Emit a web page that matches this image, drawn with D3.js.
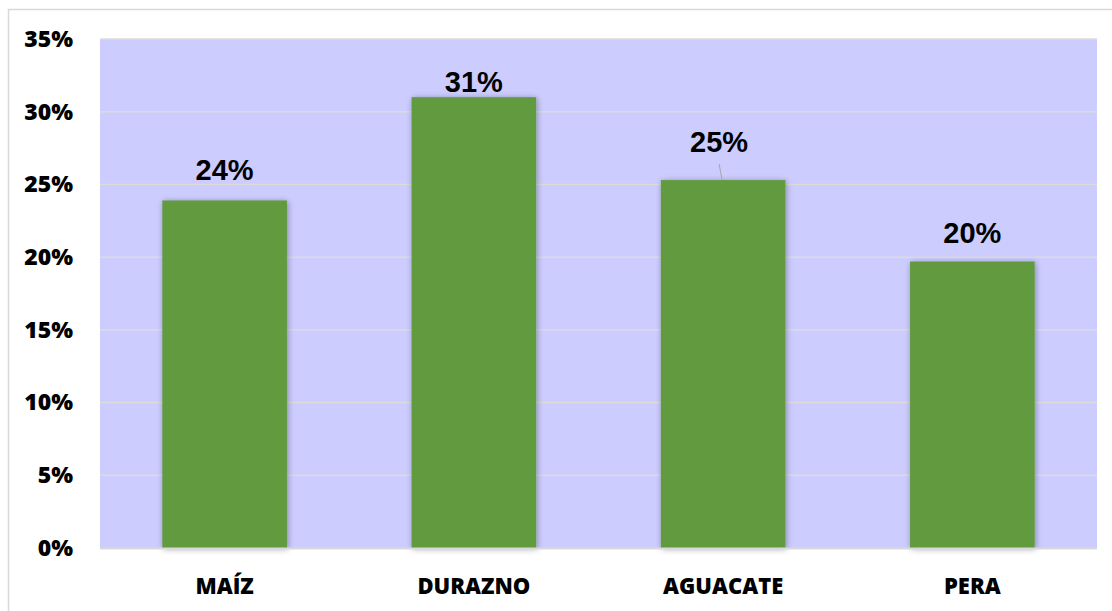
<!DOCTYPE html>
<html>
<head>
<meta charset="utf-8">
<script src="https://cdn.jsdelivr.net/npm/d3@7"></script>
<style>
  body { margin: 0; background: #fff; }
  svg { display: block; }
</style>
</head>
<body>
<svg id="chart" width="1112" height="611"></svg>
<script>
var categories = ["MAÍZ", "DURAZNO", "AGUACATE", "PERA"],
	values = [0.239, 0.310, 0.253, 0.197],
	labels = ["24%", "31%", "25%", "20%"],
	yTicks = [0, 0.05, 0.10, 0.15, 0.20, 0.25, 0.30, 0.35];

var svg = d3.select("#chart"),
	margin = {left: 100, top: 39, right: 15, bottom: 63},
	width = 1112 - margin.left - margin.right,
	height = 611 - margin.top - margin.bottom,
	x = d3.scaleBand().domain(categories).range([0, width]).paddingInner(0.5).paddingOuter(0.25),
	y = d3.scaleLinear().domain([0, 0.35]).range([height, 0]);

// outer chart border
svg.append("rect")
	.attr("x", 8.5).attr("y", 9.5)
	.attr("width", 1120).attr("height", 620)
	.attr("fill", "none").attr("stroke", "#d9d9d9").attr("stroke-width", 1.5);

var defs = svg.append("defs");
var f = defs.append("filter").attr("id", "shadow")
	.attr("x", "-20%").attr("y", "-10%").attr("width", "140%").attr("height", "120%");
f.append("feGaussianBlur").attr("in", "SourceAlpha").attr("stdDeviation", 3).attr("result", "b");
f.append("feOffset").attr("in", "b").attr("dx", 1).attr("dy", 1).attr("result", "o");
f.append("feComponentTransfer").attr("in", "o").attr("result", "s")
	.append("feFuncA").attr("type", "linear").attr("slope", 0.35);
var m = f.append("feMerge");
m.append("feMergeNode").attr("in", "s");
m.append("feMergeNode").attr("in", "SourceGraphic");

var g = svg.append("g").attr("transform", "translate(" + margin.left + "," + margin.top + ")");

// plot background
g.append("rect")
	.attr("width", width).attr("height", height)
	.attr("fill", "#ccccff");

// gridlines
g.selectAll(".grid").data(yTicks.slice(1))
	.enter().append("line")
	.attr("x1", 0).attr("x2", width)
	.attr("y1", function(d) { return y(d); })
	.attr("y2", function(d) { return y(d); })
	.attr("stroke", "#dcdcd8").attr("stroke-width", 1.5);

// bars
g.selectAll(".bar").data(values)
	.enter().append("rect")
	.attr("x", function(d, i) { return x(categories[i]); })
	.attr("y", function(d) { return y(d); })
	.attr("width", x.bandwidth())
	.attr("height", function(d) { return height - y(d); })
	.attr("fill", "#629a40")
	.attr("filter", "url(#shadow)");

// x axis line
g.append("line")
	.attr("x1", 0).attr("x2", width)
	.attr("y1", height + 0.5).attr("y2", height + 0.5)
	.attr("stroke", "#d9d9d9").attr("stroke-width", 2);

// y axis
var yAxis = d3.axisLeft(y).tickValues(yTicks).tickSize(0).tickPadding(27)
	.tickFormat(d3.format(".0%"));
g.append("g").call(yAxis)
	.call(function(s) { s.select(".domain").remove(); })
	.selectAll("text")
	.attr("font-family", "'Open Sans', sans-serif")
	.attr("font-weight", "800")
	.attr("font-size", 23)
	.attr("fill", "#000");

// x axis labels
var xAxis = d3.axisBottom(x).tickSize(0).tickPadding(30);
g.append("g").attr("transform", "translate(0," + height + ")").call(xAxis)
	.call(function(s) { s.select(".domain").remove(); })
	.selectAll("text")
	.attr("font-family", "'Open Sans', sans-serif")
	.attr("font-weight", "800")
	.attr("font-size", 22)
	.attr("fill", "#000");

// data labels (offset above bar top)
var labelOffset = [20, 5, 28, 19];
g.selectAll(".lbl").data(values)
	.enter().append("text")
	.attr("x", function(d, i) { return x(categories[i]) + x.bandwidth() / 2 - (i == 2 ? 4 : 0); })
	.attr("y", function(d, i) { return y(d) - labelOffset[i]; })
	.attr("text-anchor", "middle")
	.attr("font-family", "'Liberation Sans', Arial, sans-serif")
	.attr("font-weight", "bold")
	.attr("font-size", 29)
	.attr("fill", "#000")
	.text(function(d, i) { return labels[i]; });

// leader line for AGUACATE label
var ag = x("AGUACATE") + x.bandwidth() / 2;
g.append("line")
	.attr("x1", ag - 4).attr("y1", y(values[2]) - 16)
	.attr("x2", ag - 1).attr("y2", y(values[2]))
	.attr("stroke", "#a6a6a6").attr("stroke-width", 1);
</script>
</body>
</html>
